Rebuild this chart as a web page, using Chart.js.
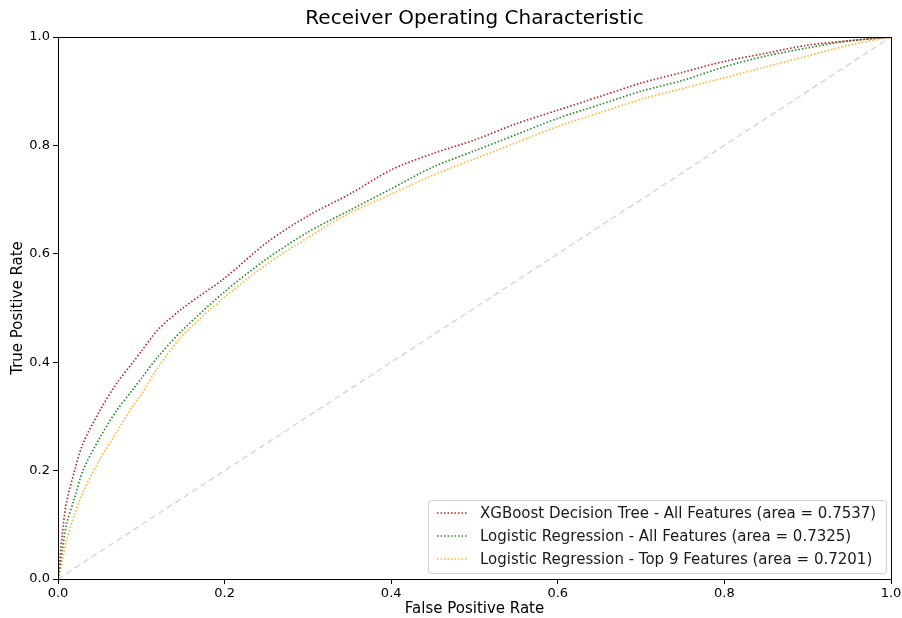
<!DOCTYPE html>
<html>
<head>
<meta charset="utf-8">
<script src="https://cdn.jsdelivr.net/npm/chart.js@4/dist/chart.umd.min.js"></script>
<style>
  html, body { margin: 0; padding: 0; background: #fff; }
  #wrap { width: 902px; height: 618px; }
</style>
</head>
<body>
<div id="wrap"><canvas id="roc" width="902" height="618"></canvas></div>
<script>
// ROC curve points (false positive rate -> true positive rate)
const fprPoints = [0, 0.005, 0.01, 0.02, 0.03, 0.05, 0.07, 0.09, 0.1, 0.12, 0.15, 0.2, 0.25, 0.3, 0.35,
                   0.4, 0.45, 0.5, 0.55, 0.6, 0.65, 0.7, 0.75, 0.8, 0.85, 0.9, 0.95, 1];

const xgbTpr = [0, 0.08, 0.14, 0.2, 0.25, 0.31, 0.36, 0.40, 0.42, 0.46, 0.50, 0.555, 0.62, 0.67, 0.71,
                0.755, 0.785, 0.81, 0.84, 0.865, 0.89, 0.915, 0.935, 0.955, 0.97, 0.985, 0.993, 1];
const logAllTpr = [0, 0.05, 0.1, 0.15, 0.2, 0.26, 0.31, 0.35, 0.37, 0.41, 0.46, 0.53, 0.59, 0.64, 0.68,
                   0.72, 0.76, 0.79, 0.82, 0.85, 0.875, 0.90, 0.92, 0.945, 0.965, 0.98, 0.993, 1];
const logTop9Tpr = [0, 0.03, 0.07, 0.12, 0.16, 0.22, 0.27, 0.32, 0.34, 0.39, 0.45, 0.52, 0.58, 0.63, 0.675,
                    0.71, 0.745, 0.775, 0.805, 0.835, 0.86, 0.885, 0.905, 0.925, 0.945, 0.965, 0.985, 1];

const seriesLabels = [
    'XGBoost Decision Tree - All Features (area = 0.7537)',
    'Logistic Regression - All Features (area = 0.7325)',
    'Logistic Regression - Top 9 Features (area = 0.7201)',
];
const seriesColors = ['#b22a2e', '#2a8a2a', '#fdb530'];
const tickValues = [0, 0.2, 0.4, 0.6, 0.8, 1.0];

const toXY = ys => fprPoints.map((x, i) => ({ x: x, y: ys[i] }));

const FONT = '"DejaVu Sans", sans-serif';

// draws the box round the plot and the legend in the lower right corner
const framePlugin = {
    id: 'frame',
    afterDatasetsDraw(chart) {
        const { ctx, chartArea: a } = chart;
        ctx.save();
        ctx.strokeStyle = '#000';
        ctx.lineWidth = 1;
        ctx.strokeRect(a.left + 0.5, a.top + 0.5, a.right - a.left, a.bottom - a.top);

        // legend
        const boxW = 458, boxH = 73;
        const bx = a.right - 5 - boxW, by = a.bottom - 6 - boxH;
        ctx.fillStyle = 'rgba(255,255,255,0.85)';
        ctx.strokeStyle = '#d0d0d0';
        ctx.beginPath();
        ctx.roundRect(bx + 0.5, by + 0.5, boxW, boxH, 3);
        ctx.fill();
        ctx.stroke();
        ctx.font = '15px ' + FONT;
        ctx.textBaseline = 'middle';
        seriesLabels.forEach((lab, i) => {
            const y = by + 13 + i * 23;
            ctx.strokeStyle = seriesColors[i];
            ctx.lineWidth = 1.5;
            ctx.setLineDash([1.5, 2]);
            ctx.beginPath();
            ctx.moveTo(bx + 9, y);
            ctx.lineTo(bx + 40, y);
            ctx.stroke();
            ctx.setLineDash([]);
            ctx.fillStyle = '#1a1a1a';
            ctx.fillText(lab, bx + 52, y + 1);
        });
        ctx.restore();
    }
};

const dotted = (label, data, color) => ({
    label: label,
    data: data,
    borderColor: color,
    borderWidth: 1.7,
    borderDash: [1.5, 2],
    pointRadius: 0,
    tension: 0.3,
    fill: false,
});

new Chart(document.getElementById('roc'), {
    type: 'scatter',
    data: {
        datasets: [
            dotted(seriesLabels[0], toXY(xgbTpr), seriesColors[0]),
            dotted(seriesLabels[1], toXY(logAllTpr), seriesColors[1]),
            dotted(seriesLabels[2], toXY(logTop9Tpr), seriesColors[2]),
            {
                label: 'chance',
                data: [{ x: 0, y: 0 }, { x: 1, y: 1 }],
                borderColor: '#d3d3d3',
                borderWidth: 1.3,
                borderDash: [6, 4],
                pointRadius: 0,
            },
        ].map(d => Object.assign({ showLine: true }, d))
    },
    options: {
        responsive: false,
        animation: false,
        layout: { padding: { left: 0, right: 11, top: 0, bottom: 0 } },
        plugins: {
            legend: { display: false },
            tooltip: { enabled: false },
            title: {
                display: true,
                fullSize: false,
                text: 'Receiver Operating Characteristic',
                color: '#000',
                font: { family: FONT, size: 20, weight: 'normal' },
                padding: { top: 7, bottom: 6 },
            },
        },
        scales: {
            x: {
                type: 'linear',
                min: 0, max: 1,
                afterBuildTicks: s => { s.ticks = tickValues.map(v => ({ value: v })); },
                afterFit: s => { s.height = 39; s.paddingRight = 0; },
                ticks: {
                    color: '#000',
                    font: { family: FONT, size: 13 },
                    padding: 2,
                    callback: v => v.toFixed(1),
                },
                grid: { drawOnChartArea: false, color: '#000', tickLength: 5 },
                border: { color: '#000' },
                title: {
                    display: true,
                    text: 'False Positive Rate',
                    color: '#000',
                    font: { family: FONT, size: 15 },
                    padding: { top: 0, bottom: 0 },
                },
            },
            y: {
                type: 'linear',
                min: 0, max: 1,
                afterBuildTicks: s => { s.ticks = tickValues.map(v => ({ value: v })); },
                afterFit: s => { s.width = 58; },
                ticks: {
                    color: '#000',
                    font: { family: FONT, size: 13 },
                    padding: 3,
                    callback: v => v.toFixed(1),
                },
                grid: { drawOnChartArea: false, color: '#000', tickLength: 5 },
                border: { color: '#000' },
                title: {
                    display: true,
                    text: 'True Positive Rate',
                    color: '#000',
                    font: { family: FONT, size: 15 },
                    padding: { top: 9, bottom: 0 },
                },
            },
        },
    },
    plugins: [framePlugin],
});
</script>
</body>
</html>
